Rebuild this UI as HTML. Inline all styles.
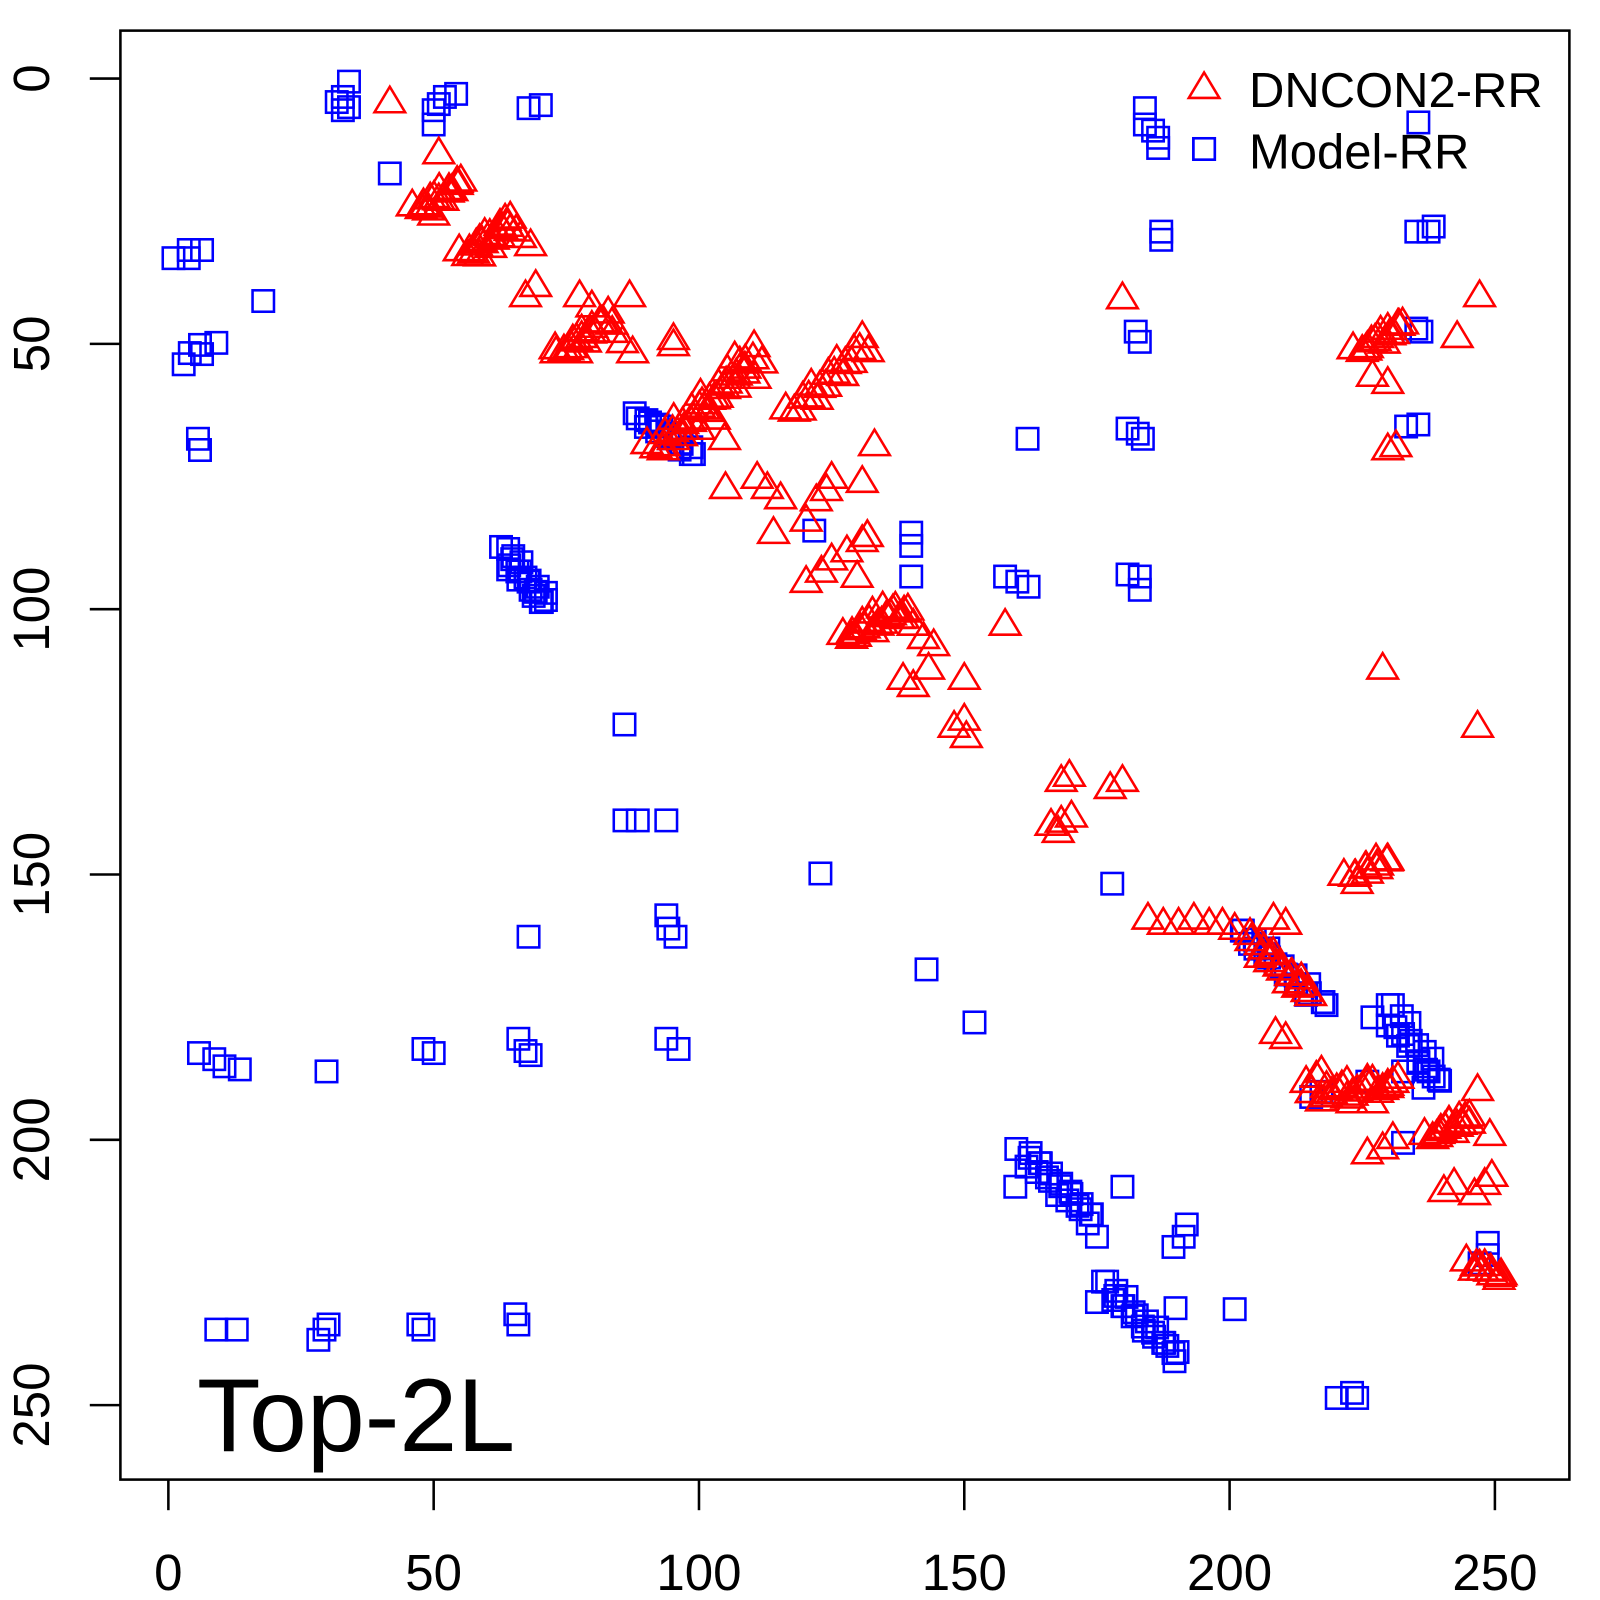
<!DOCTYPE html>
<html><head><meta charset="utf-8"><style>html,body{margin:0;padding:0;background:#fff}svg{display:block}</style></head>
<body>
<svg id="s" xmlns="http://www.w3.org/2000/svg" width="1600" height="1600" viewBox="0 0 1568 1568" font-family="'Liberation Sans', sans-serif">
<rect x="0" y="0" width="1568" height="1568" fill="#fff"/>
<rect x="118" y="30" width="1420" height="1420" fill="none" stroke="#000" stroke-width="2.5"/>
<g stroke="#000" stroke-width="2.5">
<line x1="165" y1="1450" x2="165" y2="1480"/><line x1="425" y1="1450" x2="425" y2="1480"/><line x1="685" y1="1450" x2="685" y2="1480"/><line x1="945" y1="1450" x2="945" y2="1480"/><line x1="1205" y1="1450" x2="1205" y2="1480"/><line x1="1465" y1="1450" x2="1465" y2="1480"/>
<line x1="118" y1="77" x2="88" y2="77"/><line x1="118" y1="337" x2="88" y2="337"/><line x1="118" y1="597" x2="88" y2="597"/><line x1="118" y1="857" x2="88" y2="857"/><line x1="118" y1="1117" x2="88" y2="1117"/><line x1="118" y1="1377" x2="88" y2="1377"/>
</g>
<g font-size="50" text-anchor="middle" fill="#000">
<text x="165" y="1558">0</text><text x="425" y="1558">50</text><text x="685" y="1558">100</text><text x="945" y="1558">150</text><text x="1205" y="1558">200</text><text x="1465" y="1558">250</text>
<text transform="translate(48,77) rotate(-90)">0</text>
<text transform="translate(48,337) rotate(-90)">50</text>
<text transform="translate(48,597) rotate(-90)">100</text>
<text transform="translate(48,857) rotate(-90)">150</text>
<text transform="translate(48,1117) rotate(-90)">200</text>
<text transform="translate(48,1377) rotate(-90)">250</text>
</g>
<g id="pts" fill="none" stroke-width="2.5"></g>
<text x="1224" y="105" font-size="48" fill="#000">DNCON2-RR</text>
<text x="1224" y="165" font-size="48" fill="#000">Model-RR</text>
<text x="193" y="1422" font-size="102" fill="#000">Top-2L</text>
</svg>
<script>
var B=[[342,80],[336,95],[330,100],[342,105],[336,108],[447,92],[436,95],[430,102],[425,108],[425,122],[518,106],[530,103],[382,170],[170,253],[185,245],[198,245],[185,253],[258,295],[180,357],[186,346],[196,338],[212,336],[198,347],[194,430],[196,441],[625,410],[637,414],[648,418],[655,425],[668,435],[680,445],[498,538],[502,548],[510,560],[518,570],[525,580],[535,588],[498,558],[508,568],[520,578],[530,590],[612,710],[612,804],[625,804],[653,804],[653,897],[655,910],[662,918],[518,918],[804,856],[798,520],[893,522],[893,535],[893,565],[985,565],[997,570],[1008,575],[1105,563],[1117,565],[1117,578],[1007,430],[1105,420],[1115,425],[1120,430],[1117,335],[1113,325],[1122,106],[1122,122],[1130,128],[1135,135],[1135,145],[1138,227],[1138,235],[1180,146],[1390,120],[1388,227],[1400,227],[1405,222],[1388,322],[1393,325],[1378,418],[1390,416],[1090,866],[908,950],[955,1002],[1218,912],[1225,925],[1240,935],[1250,945],[1260,955],[1270,965],[1280,975],[1300,985],[1345,997],[1365,985],[1360,1005],[1370,1015],[1380,1025],[1390,1040],[1400,1050],[1410,1058],[1395,1066],[1375,1050],[1285,1075],[1295,1070],[1340,1060],[1375,1120],[1010,1130],[1020,1140],[1030,1150],[1040,1160],[1050,1170],[1060,1180],[1070,1190],[995,1163],[1100,1163],[1075,1212],[1150,1222],[1160,1212],[1163,1200],[1085,1256],[1093,1270],[1100,1280],[1110,1290],[1120,1300],[1130,1306],[1140,1316],[1150,1326],[1152,1282],[1075,1276],[1210,1283],[1310,1370],[1325,1365],[1330,1370],[1458,1218],[1458,1230],[1450,1238],[195,1032],[210,1038],[220,1045],[235,1048],[320,1050],[415,1028],[425,1032],[508,1018],[515,1030],[520,1034],[653,1018],[665,1028],[212,1303],[232,1303],[312,1313],[318,1303],[322,1298],[410,1298],[415,1303],[505,1288],[508,1298],[1180,146]];
var R=[[382,100],[430,150],[420,205],[430,195],[440,185],[448,180],[425,210],[415,200],[460,245],[470,235],[480,230],[490,220],[500,225],[510,232],[520,240],[470,250],[495,215],[515,290],[525,280],[568,290],[580,300],[560,340],[570,330],[580,320],[590,315],[600,325],[610,335],[620,345],[617,290],[660,338],[660,332],[545,345],[565,345],[650,440],[660,430],[670,420],[680,410],[690,400],[700,390],[710,380],[720,370],[730,360],[740,370],[710,430],[720,350],[725,355],[688,395],[685,420],[700,410],[711,478],[742,468],[752,478],[765,488],[758,522],[790,510],[800,490],[810,480],[815,468],[845,472],[857,436],[790,570],[805,560],[815,548],[830,540],[840,565],[845,530],[850,525],[835,620],[845,610],[855,600],[865,595],[875,598],[885,605],[895,612],[905,625],[915,632],[910,655],[885,665],[895,672],[945,665],[935,712],[945,705],[947,722],[985,612],[1040,765],[1048,760],[1030,808],[1040,805],[1050,800],[1088,772],[1100,765],[1037,815],[1100,292],[1125,900],[1140,905],[1155,905],[1170,900],[1185,905],[1198,905],[1210,910],[1225,915],[1235,925],[1245,935],[1255,945],[1265,955],[1275,965],[1248,900],[1260,905],[1250,1012],[1260,1017],[1280,1060],[1290,1055],[1300,1065],[1320,1060],[1340,1058],[1360,1065],[1345,1080],[1325,1080],[1340,1130],[1355,1125],[1365,1115],[1410,1110],[1420,1100],[1430,1095],[1440,1100],[1460,1112],[1425,1160],[1415,1167],[1445,1170],[1455,1160],[1462,1152],[1448,1068],[1450,1240],[1460,1245],[1470,1250],[1330,865],[1340,855],[1350,847],[1360,842],[1340,340],[1350,330],[1360,322],[1370,318],[1345,368],[1360,375],[1360,440],[1368,437],[1428,330],[1450,290],[1448,712],[1355,655],[1295,1050],[1180,86]];
function seg(arr,a,b,n,j){for(var i=0;i<=n;i++){var t=i/n;arr.push([a[0]+(b[0]-a[0])*t+(i%2?j:-j),a[1]+(b[1]-a[1])*t+(i%3-1)*j]);}}
seg(R,[408,205],[452,178],10,4);seg(R,[455,250],[505,218],12,5);seg(R,[548,345],[600,310],12,4);
seg(R,[640,440],[745,345],24,6);seg(R,[775,405],[850,335],18,5);seg(R,[830,625],[890,595],14,4);
seg(R,[1230,925],[1285,975],12,4);seg(R,[1290,1075],[1370,1060],16,5);seg(R,[1400,1115],[1440,1095],10,4);
seg(R,[1440,1238],[1472,1250],8,3);seg(R,[1320,860],[1362,840],8,3);seg(R,[1330,345],[1375,318],10,4);
seg(B,[495,540],[535,590],10,4);seg(B,[1365,990],[1410,1060],12,5);seg(B,[1000,1130],[1070,1195],14,4);
seg(B,[1085,1260],[1155,1330],14,4);seg(B,[1220,915],[1300,985],12,3);seg(B,[625,408],[680,445],10,3);
var g=document.getElementById('pts'),h='';
B.forEach(function(p){h+='<rect x="'+(p[0]-10.5)+'" y="'+(p[1]-10.5)+'" width="21" height="21" stroke="#0000ff"/>';});
R.forEach(function(p){var x=p[0],y=p[1];h+='<polygon points="'+(x-15)+','+(y+10)+' '+(x+15)+','+(y+10)+' '+x+','+(y-15)+'" stroke="#ff0000"/>';});
g.innerHTML=h;
</script>
</body></html>
